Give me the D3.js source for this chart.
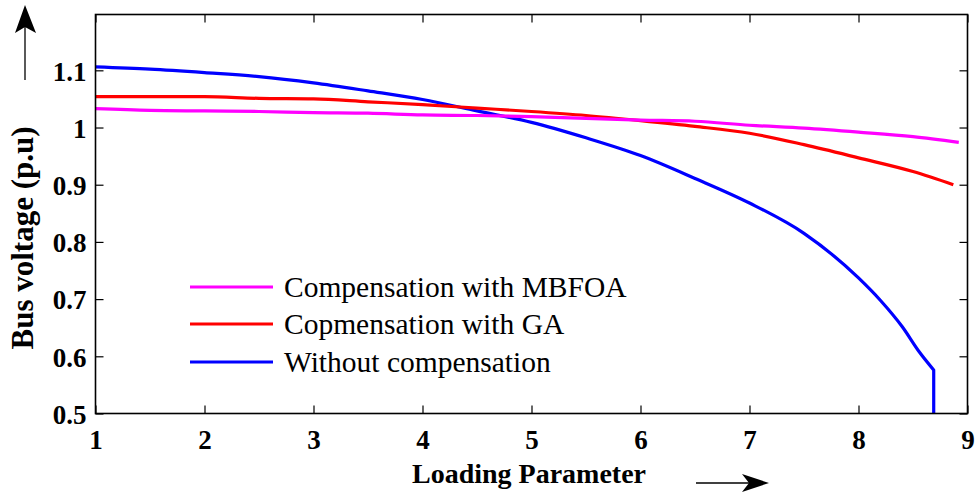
<!DOCTYPE html>
<html>
<head>
<meta charset="utf-8">
<script src="https://cdn.jsdelivr.net/npm/d3@7"></script>
<style>
  html, body { margin: 0; padding: 0; background: #fff; }
  svg { display: block; }
  svg text { font-family: "Liberation Serif", "DejaVu Serif", serif !important; fill: #000; }
</style>
</head>
<body>
<svg id="chart" width="977" height="492"></svg>
<script>
// Loading parameter vs. bus voltage for three compensation cases
const xTicks = [1, 2, 3, 4, 5, 6, 7, 8, 9];
const yTicks = [0.5, 0.6, 0.7, 0.8, 0.9, 1.0, 1.1];
const yTickLabels = ["0.5", "0.6", "0.7", "0.8", "0.9", "1", "1.1"];

const seriesNames = ["Compensation with MBFOA", "Copmensation with GA", "Without compensation"];
const seriesColors = ["#ff00ff", "#ff0000", "#0000ff"];

// MBFOA compensation
const mbfoaX = [1.0, 1.5, 2.0, 2.5, 3.0, 3.5, 4.0, 4.5, 5.0, 5.5, 6.0, 6.5, 7.0, 7.5, 8.0, 8.5, 8.92];
const mbfoaV = [1.033, 1.030, 1.029, 1.028, 1.026, 1.025, 1.022, 1.021, 1.019, 1.016, 1.013, 1.011, 1.004, 0.999, 0.992, 0.984, 0.974];

// GA compensation
const gaX = [1.0, 1.5, 2.0, 2.5, 3.0, 3.5, 4.0, 4.5, 5.0, 5.5, 6.0, 6.5, 7.0, 7.5, 8.0, 8.5, 8.87];
const gaV = [1.054, 1.054, 1.054, 1.051, 1.050, 1.045, 1.040, 1.034, 1.028, 1.021, 1.012, 1.002, 0.990, 0.970, 0.947, 0.923, 0.900];

// No compensation (collapses to the axis at the nose point)
const baseX = [1.0, 1.5, 2.0, 2.5, 3.0, 3.5, 4.0, 4.5, 5.0, 5.5, 6.0, 6.5, 7.0, 7.5, 8.0, 8.2, 8.4, 8.56, 8.69, 8.69];
const baseV = [1.106, 1.102, 1.096, 1.089, 1.078, 1.064, 1.049, 1.029, 1.009, 0.982, 0.951, 0.911, 0.868, 0.815, 0.737, 0.698, 0.652, 0.607, 0.576, 0.5];

const seriesX = [mbfoaX, gaX, baseX];
const seriesV = [mbfoaV, gaV, baseV];

const svg = d3.select("#chart");
const m = { left: 95.5, right: 967.5, top: 14.5, bottom: 413.5 };

const x = d3.scaleLinear().domain([1, 9]).range([m.left, m.right]);
const y = d3.scaleLinear().domain([0.5, 1.1976]).range([m.bottom, m.top]);

const tickLen = 8;

svg.append("clipPath").attr("id", "plotClip")
  .append("rect").attr("x", m.left).attr("y", m.top)
  .attr("width", m.right - m.left).attr("height", m.bottom - m.top);

const smooth = d3.line().x(d => x(d[0])).y(d => y(d[1])).curve(d3.curveMonotoneX);

// smooth path through the points; a trailing point sharing the previous x is joined straight
function seriesPath(pts) {
  const n = pts.length;
  if (n > 2 && pts[n - 1][0] === pts[n - 2][0]) {
    const last = pts[n - 1];
    return smooth(pts.slice(0, n - 1)) + `L${x(last[0])},${y(last[1])}`;
  }
  return smooth(pts);
}

const plot = svg.append("g").attr("clip-path", "url(#plotClip)");
// uncompensated curve first, then GA, then MBFOA on top
[2, 1, 0].forEach(i => {
  const pts = seriesX[i].map((xv, k) => [xv, seriesV[i][k]]);
  plot.append("path")
    .attr("fill", "none")
    .attr("stroke", seriesColors[i])
    .attr("stroke-width", 3.2)
    .attr("stroke-linejoin", "round")
    .attr("d", seriesPath(pts));
});

// axes: ticks inward on all four sides
const axisBottom = d3.axisBottom(x).tickValues(xTicks).tickSize(-tickLen).tickPadding(16).tickFormat(d3.format("d"));
const axisTop = d3.axisTop(x).tickValues(xTicks).tickSize(-tickLen).tickFormat("");
const axisLeft = d3.axisLeft(y).tickValues(yTicks).tickSize(-tickLen).tickPadding(9)
  .tickFormat((d, i) => yTickLabels[i]);
const axisRight = d3.axisRight(y).tickValues(yTicks).tickSize(-tickLen).tickFormat("");

function styleAxis(g) {
  g.attr("font-family", null);
  g.select(".domain").remove();
  g.selectAll(".tick line").attr("stroke", "#000").attr("stroke-width", 1.2);
  g.selectAll(".tick text")
    .style("font-weight", "bold")
    .style("font-size", "27px")
    .attr("fill", "#000");
}

svg.append("g").attr("transform", `translate(0,${m.bottom})`).call(axisBottom).call(styleAxis);
svg.append("g").attr("transform", `translate(0,${m.top})`).call(axisTop).call(styleAxis);
svg.append("g").attr("transform", `translate(${m.left},0)`).call(axisLeft).call(styleAxis)
  .selectAll(".tick text").attr("dy", "0.36em");
svg.append("g").attr("transform", `translate(${m.right},0)`).call(axisRight).call(styleAxis);

// frame
svg.append("rect")
  .attr("x", m.left).attr("y", m.top)
  .attr("width", m.right - m.left).attr("height", m.bottom - m.top)
  .attr("fill", "none").attr("stroke", "#000").attr("stroke-width", 1.6);

// axis titles
svg.append("text")
  .attr("x", 529).attr("y", 483)
  .attr("text-anchor", "middle")
  .style("font-weight", "bold").style("font-size", "28px")
  .text("Loading Parameter");

svg.append("text")
  .attr("transform", "translate(33,238) rotate(-90)")
  .attr("text-anchor", "middle")
  .style("font-weight", "bold").style("font-size", "31px")
  .text("Bus voltage (p.u)");

// direction arrows
svg.append("line").attr("x1", 25).attr("y1", 80).attr("x2", 25).attr("y2", 22)
  .attr("stroke", "#000").attr("stroke-width", 1.3);
svg.append("path")
  .attr("d", "M25,5 L15,33 L25,27 L36,33 Z")
  .attr("fill", "#000");

svg.append("line").attr("x1", 696).attr("y1", 483).attr("x2", 752).attr("y2", 483)
  .attr("stroke", "#000").attr("stroke-width", 1.3);
svg.append("path")
  .attr("d", "M769,483 L742,474 L749,483 L742,492 Z")
  .attr("fill", "#000");

// legend
const legendY = [287, 324, 362];
const legend = svg.append("g");
seriesNames.forEach((name, i) => {
  legend.append("line")
    .attr("x1", 190).attr("x2", 273)
    .attr("y1", legendY[i]).attr("y2", legendY[i])
    .attr("stroke", seriesColors[i]).attr("stroke-width", 3.2);
  legend.append("text")
    .attr("x", 284).attr("y", legendY[i] + 10)
    .style("font-size", "29.5px")
    .text(name);
});
</script>
</body>
</html>
